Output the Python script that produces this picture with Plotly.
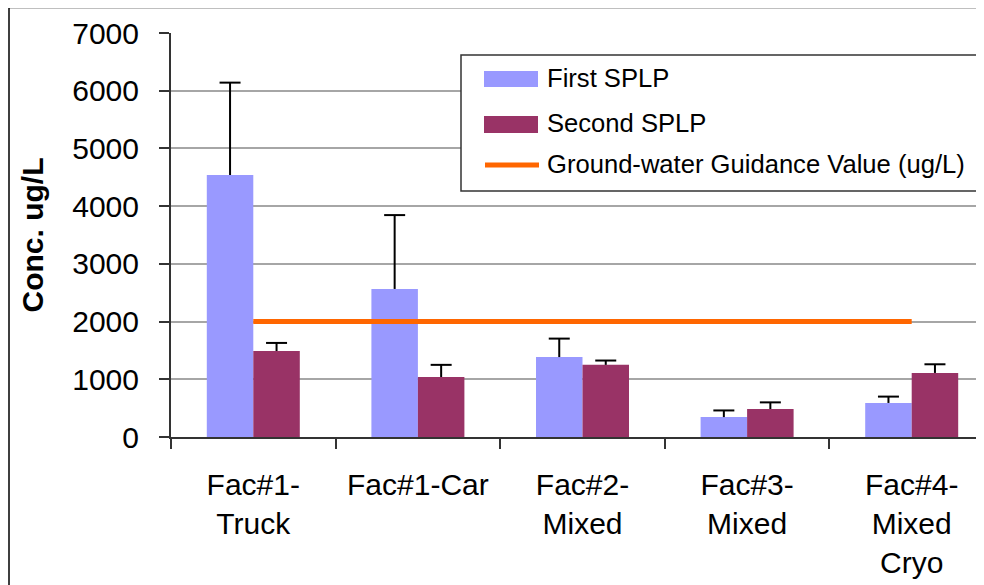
"""SPLP leachate concentrations by facility, with ground-water guidance value."""

import plotly.graph_objects as go

# ── data ─────────────────────────────────────────────────────────────────────

facilities = ["Fac#1-<br>Truck", "Fac#1-Car", "Fac#2-<br>Mixed",
              "Fac#3-<br>Mixed", "Fac#4-<br>Mixed<br>Cryo"]
first_splp = [4540, 2565, 1385, 345, 590]
first_err = [1600, 1280, 320, 115, 110]
second_splp = [1490, 1040, 1250, 485, 1110]
second_err = [140, 210, 75, 115, 150]
guidance = [2000, 2000, 2000, 2000, 2000]
y_ticks = [0, 1000, 2000, 3000, 4000, 5000, 6000, 7000]

FIRST_NAME = "First SPLP"
SECOND_NAME = "Second SPLP"
GUIDE_NAME = "Ground-water Guidance Value (ug/L)"

FIRST_COLOR = "#9999FF"
SECOND_COLOR = "#993366"
GUIDE_COLOR = "#FF6600"
AXIS_COLOR = "#333333"
FONT = "Arial, Liberation Sans, sans-serif"

# page geometry in pixels; the page body adds an 8px margin round the figure
PAGE_W, PAGE_H, BODY = 984, 585, 8
W, H = PAGE_W - BODY, PAGE_H - BODY
PLOT_L, PLOT_T, PLOT_B = 171, 33, 437      # page px (reference is cropped right)
PLOT_W = PAGE_W - PLOT_L
CAT_W = 164.6                              # px per category
BAR_W = 46.5 / CAT_W                       # one bar, in category units


def px(x):
    return (x - PLOT_L) / PLOT_W


def py(y):
    return (PLOT_B - y) / (PLOT_B - PLOT_T)


xs = list(range(len(facilities)))

fig = go.Figure()
for vals, errs, name, color, side in (
        (first_splp, first_err, FIRST_NAME, FIRST_COLOR, -1),
        (second_splp, second_err, SECOND_NAME, SECOND_COLOR, 1)):
    fig.add_bar(
        x=xs, y=vals, name=name, marker_color=color, marker_line_width=0,
        error_y=dict(type="data", array=errs, symmetric=False,
                     arrayminus=[0] * len(errs),
                     color="black", thickness=2, width=0),
    )
    # top caps only (Excel style: no cap at the bar end)
    fig.add_scatter(
        x=[i + side * BAR_W / 2 for i in xs],
        y=[v + e for v, e in zip(vals, errs)],
        mode="markers", showlegend=False, hoverinfo="skip",
        marker=dict(symbol="line-ew", size=15,
                    line=dict(color="black", width=2)),
    )
fig.add_scatter(
    x=xs, y=guidance, name=GUIDE_NAME, mode="lines",
    line=dict(color=GUIDE_COLOR, width=5),
)

# ── legend drawn by hand (wide swatches like the original) ───────────────────

shapes = [
    # outer chart frame
    dict(type="rect", xref="paper", yref="paper",
         x0=px(9), x1=px(PAGE_W + 20), y0=py(PAGE_H + 20), y1=py(7.5),
         line=dict(color="black", width=1.5), layer="below"),
    # legend box
    dict(type="rect", xref="paper", yref="paper",
         x0=px(461), x1=px(979), y0=py(191), y1=py(55),
         line=dict(color=AXIS_COLOR, width=1.5), fillcolor="white"),
    dict(type="rect", xref="paper", yref="paper",
         x0=px(484), x1=px(538), y0=py(87), y1=py(71),
         line_width=0, fillcolor=FIRST_COLOR),
    dict(type="rect", xref="paper", yref="paper",
         x0=px(484), x1=px(538), y0=py(133), y1=py(116),
         line_width=0, fillcolor=SECOND_COLOR),
    dict(type="line", xref="paper", yref="paper",
         x0=px(485), x1=px(539), y0=py(165), y1=py(165),
         line=dict(color=GUIDE_COLOR, width=5)),
]
annotations = [
    dict(xref="paper", yref="paper", x=px(545), y=py(y), text=t,
         xanchor="left", yanchor="middle", showarrow=False,
         font=dict(size=25.6, color="black"))
    for t, y in ((FIRST_NAME, 78), (SECOND_NAME, 123), (GUIDE_NAME, 164))
]

fig.update_layout(
    width=W, height=H,
    margin=dict(l=PLOT_L - BODY, r=0, t=PLOT_T - BODY, b=PAGE_H - PLOT_B, pad=0),
    paper_bgcolor="white", plot_bgcolor="white",
    font=dict(family=FONT, color="black", size=30),
    barmode="group", bargap=1 - 2 * BAR_W, bargroupgap=0,
    showlegend=False,
    shapes=shapes, annotations=annotations,
    xaxis=dict(
        range=[-0.5, -0.5 + PLOT_W / CAT_W],
        tickmode="array", tickvals=xs, ticktext=facilities,
        ticks="", showgrid=False, zeroline=False,
        showline=True, linecolor=AXIS_COLOR, linewidth=2,
        ticklabelstandoff=20,
        minor=dict(tickmode="array", tickvals=[i - 0.5 for i in range(len(xs) + 1)],
                   ticks="outside", ticklen=10, tickwidth=1.5,
                   tickcolor=AXIS_COLOR, showgrid=False),
    ),
    yaxis=dict(
        range=[0, 7000], tickmode="array", tickvals=y_ticks,
        ticks="outside", ticklen=10, tickwidth=1.5, tickcolor=AXIS_COLOR,
        ticklabelstandoff=14,
        showgrid=True, gridcolor="#A6A6A6", gridwidth=1.5, zeroline=False,
        showline=True, linecolor=AXIS_COLOR, linewidth=2,
        title=dict(text="<b>Conc. ug/L</b>", standoff=20,
                   font=dict(size=30)),
    ),
)

fig.write_html("out.html")
